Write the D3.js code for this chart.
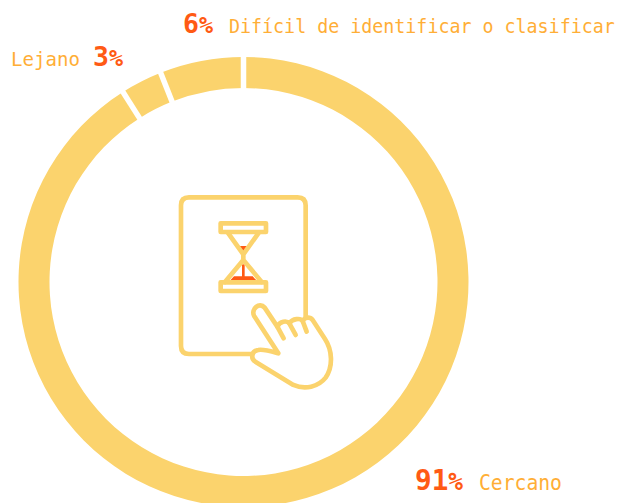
<!DOCTYPE html>
<html><head><meta charset="utf-8">
<script src="https://cdnjs.cloudflare.com/ajax/libs/d3/7.8.5/d3.min.js"></script>
<style>html,body{margin:0;padding:0;background:#fff}svg{display:block}</style>
</head><body><svg id="c" width="619" height="503"></svg>
<script>
const categories = ["Cercano", "Lejano", "Difícil de identificar o clasificar"];
const percents = [91, 3, 6];
const ringColor = "#FBD36D", textColor = "#FFAE36", numColor = "#FF5A14";
const svg = d3.select("#c");
const cx = 243.5, cy = 282, R = 225, r = 194;
const pie = d3.pie().sort(null)(percents);
const arc = d3.arc().innerRadius(r).outerRadius(R);
const gap = 5.5;
const ring = svg.append("g").attr("transform", `translate(${cx},${cy})`);
ring.selectAll("path").data(pie).join("path")
  .attr("d", d => arc(d)).attr("fill", ringColor);
ring.selectAll("line").data(pie).join("line")
  .attr("x1", d => (r-2)*Math.sin(d.startAngle)).attr("y1", d => -(r-2)*Math.cos(d.startAngle))
  .attr("x2", d => (R+2)*Math.sin(d.startAngle)).attr("y2", d => -(R+2)*Math.cos(d.startAngle))
  .attr("stroke", "#fff").attr("stroke-width", gap);

// label layout per category: number x, number width, number size, label x, label width, label size, baseline
const layout = [
  [415, 48, 28, 479, 83, 21, 490],
  [93, 30, 26, 11, 69, 20, 66],
  [183, 30, 26, 229, 386, 19.5, 33]
];
const font = "'DejaVu Sans Mono', monospace";
// place a text at (x, y) and squeeze it horizontally to the wanted width
function fit(t, x, y, w) {
  const k = w / t.node().getComputedTextLength();
  t.attr("transform", `translate(${x},${y}) scale(${k},1)`);
}
categories.forEach((c, i) => {
  const [nx, nw, ns, tx, tw, ts, y] = layout[i];
  const l = svg.append("text").attr("fill", textColor)
    .attr("font-family", font).attr("font-size", ts).text(c);
  fit(l, tx, y, tw);
  const t = svg.append("text").attr("fill", numColor)
    .attr("font-family", font).attr("font-weight", "bold").attr("font-size", ns).text(percents[i]);
  t.append("tspan").attr("font-size", ns * 0.88).text("%");
  fit(t, nx, y, nw);
});

// pictogram (coordinates in 3x space)
const g = svg.append("g").attr("transform", "translate(170,185) scale(0.3333)")
  .attr("fill", "none").attr("stroke", ringColor).attr("stroke-width", 14)
  .attr("stroke-linejoin", "round").attr("stroke-linecap", "round");
g.append("path").attr("d", "M250 507H57Q33 507 33 483V61Q33 37 57 37H383Q407 37 407 61V395");
g.append("path").attr("fill", numColor).attr("stroke", "none").attr("d", "M205 183H235L220 207Z");
g.append("path").attr("fill", numColor).attr("stroke", "none").attr("d", "M192 274H248L262 289H178Z");
g.append("path").attr("stroke", numColor).attr("stroke-width", 8).attr("stroke-linecap", "butt").attr("d", "M220 238V280");
g.append("path").attr("d", "M175 145L220 208L265 145M220 208V225M220 225L165 291M220 225L275 291");
g.append("rect").attr("x", 152).attr("y", 115).attr("width", 136).attr("height", 26);
g.append("rect").attr("x", 152).attr("y", 292).attr("width", 136).attr("height", 26);
g.append("path").attr("fill", "#fff").attr("d", "M325 505L252 392C243 372 268 350 284 368L322 425C330 408 350 406 358 415C368 400 392 399 398 408C405 396 420 395 428 405L465 462C487 495 490 545 467 578C445 606 405 615 370 600L256 530C241 520 245 498 265 495C280 492 300 498 325 505Z");
g.append("path").attr("d", "M322 425L341 460M358 415L377 450M398 408L410 440");
</script></body></html>
